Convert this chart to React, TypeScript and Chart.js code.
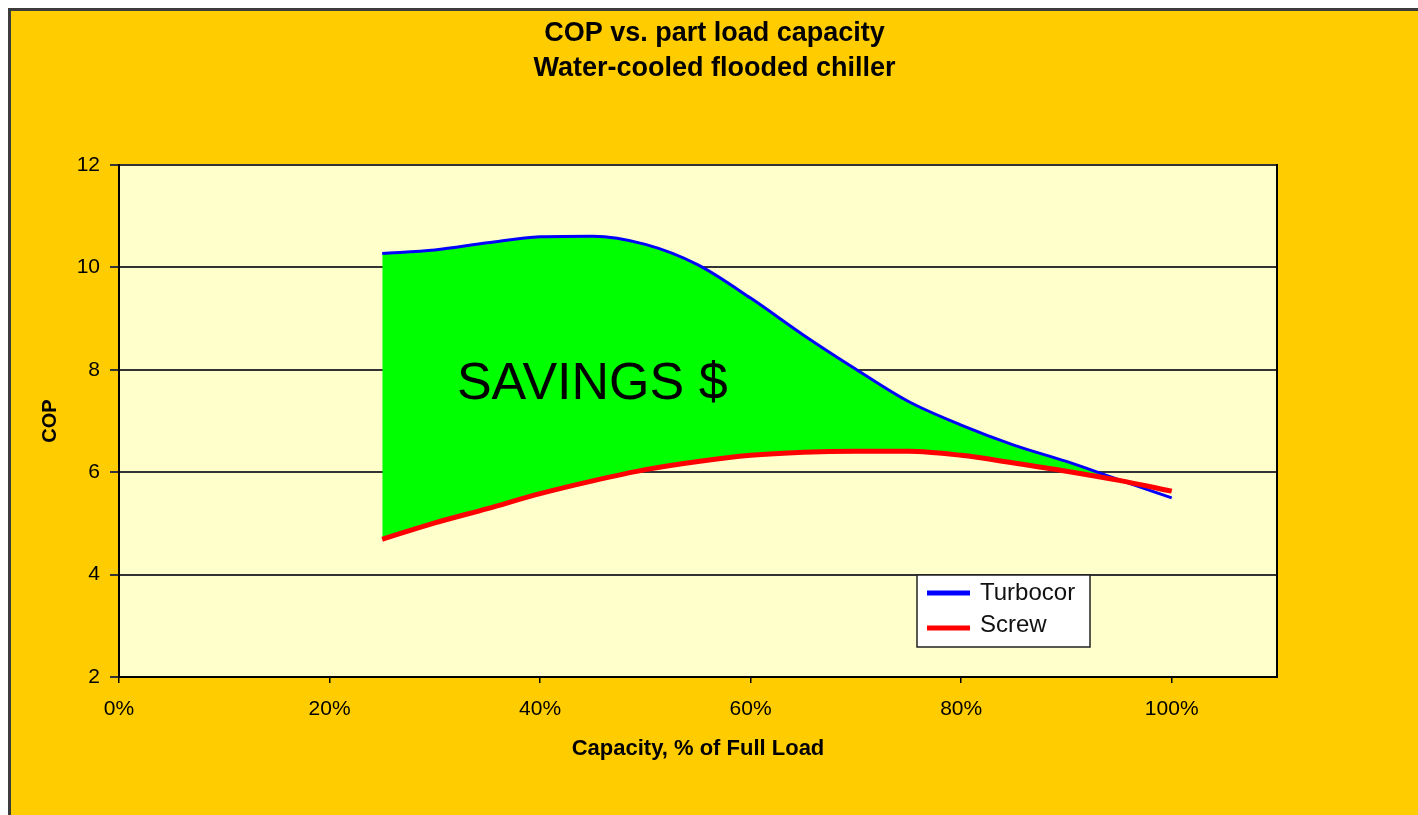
import React, { useEffect, useRef } from "react";
import { Chart, registerables } from "chart.js";

Chart.register(...registerables);

// ---- Data ----
const capacity = [25, 30, 35, 40, 45, 50, 55, 60, 65, 70, 75, 80, 85, 90, 95, 100];
const turbocor = [10.27, 10.34, 10.48, 10.6, 10.61, 10.45, 10.05, 9.4, 8.68, 8.01, 7.38, 6.92, 6.53, 6.21, 5.85, 5.5];
const screw = [4.69, 5.01, 5.29, 5.58, 5.83, 6.05, 6.21, 6.33, 6.39, 6.41, 6.41, 6.33, 6.18, 6.02, 5.84, 5.63];
const seriesNames = ["Turbocor", "Screw"];
const xTicks = [0, 20, 40, 60, 80, 100];
const yTicks = [2, 4, 6, 8, 10, 12];
const titleLines = ["COP vs. part load capacity", "Water-cooled flooded chiller"];
const xTitle = "Capacity, % of Full Load";
const yTitle = "COP";
const annotationText = "SAVINGS $";
const annotationAt = { x: 32.1, y: 7.43 };

const FONT = '"Liberation Sans", Arial, Helvetica, sans-serif';

const decorPlugin = {
  id: "decor",
  beforeDraw(chart: any) {
    const { ctx, chartArea: a } = chart;
    ctx.save();
    ctx.fillStyle = "#FFFFCC";
    ctx.fillRect(a.left, a.top, a.right - a.left, a.bottom - a.top);
    ctx.restore();
  },
  afterDatasetsDraw(chart: any) {
    const { ctx } = chart;
    const xs = chart.scales.x;
    const ys = chart.scales.y;
    ctx.save();
    ctx.fillStyle = "#000";
    ctx.font = `52px ${FONT}`;
    ctx.textAlign = "left";
    ctx.textBaseline = "alphabetic";
    ctx.fillText(annotationText, xs.getPixelForValue(annotationAt.x), ys.getPixelForValue(annotationAt.y));
    ctx.restore();
  },
  afterDraw(chart: any) {
    const { ctx, chartArea: a, width } = chart;
    ctx.save();
    // right border of plot
    ctx.strokeStyle = "#000";
    ctx.lineWidth = 2;
    ctx.beginPath();
    ctx.moveTo(a.right, a.top - 1);
    ctx.lineTo(a.right, a.bottom + 1);
    ctx.stroke();

    // title
    ctx.fillStyle = "#000";
    ctx.font = `bold 27px ${FONT}`;
    ctx.textAlign = "center";
    ctx.textBaseline = "middle";
    ctx.fillText(titleLines[0], width / 2, 23);
    ctx.fillText(titleLines[1], width / 2, 58);

    // legend
    const bx = a.right - 360;
    const by = a.bottom - 102;
    const bw = 173;
    const bh = 72;
    ctx.fillStyle = "#FFFFFF";
    ctx.fillRect(bx, by, bw, bh);
    ctx.strokeStyle = "#222";
    ctx.lineWidth = 1.5;
    ctx.strokeRect(bx, by, bw, bh);
    const colors = ["#0000FF", "#FF0000"];
    const rowsY = [by + 18, by + 50];
    ctx.font = `24px ${FONT}`;
    ctx.textAlign = "left";
    ctx.textBaseline = "middle";
    for (let i = 0; i < 2; i++) {
      ctx.strokeStyle = colors[i];
      ctx.lineWidth = 5;
      ctx.beginPath();
      ctx.moveTo(bx + 10, rowsY[i] + (i === 1 ? 3 : 0));
      ctx.lineTo(bx + 53, rowsY[i] + (i === 1 ? 3 : 0));
      ctx.stroke();
      ctx.fillStyle = "#111";
      ctx.fillText(seriesNames[i], bx + 63, rowsY[i]);
    }
    ctx.restore();
  },
};

export default function App() {
  const ref = useRef<HTMLCanvasElement | null>(null);

  useEffect(() => {
    document.body.style.overflow = "hidden";
    document.documentElement.style.overflow = "hidden";
    const canvas = ref.current;
    if (!canvas) return;
    const chart = new Chart(canvas, {
      type: "line",
      data: {
        datasets: [
          {
            label: seriesNames[0],
            data: capacity.map((x, i) => ({ x, y: turbocor[i] })),
            borderColor: "#0000FF",
            borderWidth: 3,
            pointRadius: 0,
            cubicInterpolationMode: "monotone",
            fill: { target: 1, above: "#00FF00", below: "rgba(0,0,0,0)" },
            order: 1,
          },
          {
            label: seriesNames[1],
            data: capacity.map((x, i) => ({ x, y: screw[i] })),
            borderColor: "#FF0000",
            borderWidth: 5,
            pointRadius: 0,
            cubicInterpolationMode: "monotone",
            fill: false,
            order: 0,
          },
        ],
      } as any,
      options: {
        responsive: false,
        animation: false,
        devicePixelRatio: 1,
        layout: { padding: { top: 154, right: 141, left: 0, bottom: 0 } },
        plugins: {
          legend: { display: false },
          title: { display: false },
          tooltip: { enabled: false },
        },
        scales: {
          x: {
            type: "linear",
            min: 0,
            max: 110,
            afterBuildTicks: (s: any) => {
              s.ticks = xTicks.map((v) => ({ value: v }));
            },
            afterFit: (s: any) => {
              s.height = 138;
            },
            grid: { drawOnChartArea: false, drawTicks: true, tickLength: 6, color: "#000", lineWidth: 1.5 },
            border: { display: true, color: "#000", width: 2 },
            ticks: {
              callback: (v: any) => v + "%",
              color: "#000",
              font: { family: FONT, size: 21 },
              padding: 14,
              maxRotation: 0,
              autoSkip: false,
            },
            title: {
              display: true,
              text: xTitle,
              color: "#000",
              font: { family: FONT, size: 22, weight: "bold" },
              padding: { top: 0, bottom: 53 },
            },
          },
          y: {
            type: "linear",
            min: 2,
            max: 12,
            afterBuildTicks: (s: any) => {
              s.ticks = yTicks.map((v) => ({ value: v }));
            },
            afterFit: (s: any) => {
              s.width = 108;
            },
            grid: { color: "#333", lineWidth: 2, tickLength: 9 },
            border: { display: true, color: "#000", width: 2 },
            ticks: { color: "#000", font: { family: FONT, size: 21 }, padding: 10 },
            title: {
              display: true,
              text: yTitle,
              color: "#000",
              font: { family: FONT, size: 20, weight: "bold" },
              padding: { top: 27, bottom: 0 },
            },
          },
        },
      } as any,
      plugins: [decorPlugin],
    });
    return () => chart.destroy();
  }, []);

  return (
    <div
      style={{
        position: "fixed",
        left: 8,
        top: 8,
        width: 1410,
        height: 807,
        boxSizing: "border-box",
        background: "#FFCC00",
        borderTop: "3px solid #3c3c3c",
        borderLeft: "3px solid #3c3c3c",
        overflow: "hidden",
      }}
    >
      <canvas ref={ref} width={1407} height={804} style={{ display: "block", width: 1407, height: 804 }} />
    </div>
  );
}
